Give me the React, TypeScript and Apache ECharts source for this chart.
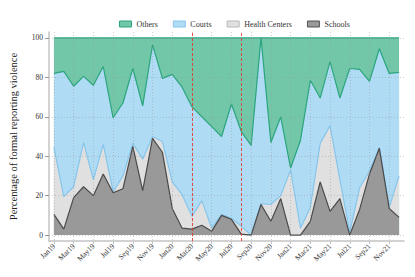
import React, { useEffect, useRef } from 'react';
import * as echarts from 'echarts';

const months = [
  'Jan19', 'Feb19', 'Mar19', 'Apr19', 'May19', 'Jun19', 'Jul19', 'Aug19', 'Sep19', 'Oct19', 'Nov19', 'Dec19',
  'Jan20', 'Feb20', 'Mar20', 'Apr20', 'May20', 'Jun20', 'Jul20', 'Aug20', 'Sep20', 'Oct20', 'Nov20', 'Dec20',
  'Jan21', 'Feb21', 'Mar21', 'Apr21', 'May21', 'Jun21', 'Jul21', 'Aug21', 'Sep21', 'Oct21', 'Nov21', 'Dec21',
];

const schools = [10.5, 3, 19, 24.5, 20, 31, 21.5, 23.5, 45, 22.5, 49, 42, 13.5, 3.5, 3, 5, 2, 10, 8, 0.5, 0, 15.5, 7, 18.5, 0, 0, 7, 27, 12, 18.5, 0, 13, 31, 44, 13.5, 9];
const health = [34, 16.5, 5.5, 22.5, 8, 15, 0.5, 6.5, 1.5, 16, 1, 5.5, 13.5, 17, 6.5, 12.5, 1.5, 0.5, 0.5, 4, 0, 0.5, 8.5, 1.5, 33, 3.5, 7, 19.5, 43.5, 9.5, 1.5, 11, 1.5, 0.5, 0.5, 21];
const courts = [37.5, 63.5, 51, 33.5, 48, 39.5, 37.5, 37, 38, 27, 46.5, 32, 54.5, 54.5, 55.5, 42.5, 51.5, 39.5, 58, 48, 45.5, 84, 31.5, 40, 1, 44.5, 64.5, 23, 32.5, 41.5, 83, 60, 45.5, 50, 68, 52.5];
const others = [18, 17, 24.5, 19.5, 24, 14.5, 40.5, 33, 15.5, 34.5, 3.5, 20.5, 18.5, 25, 35, 40, 45, 50, 33.5, 47.5, 54.5, 0, 53, 40, 66, 52, 21.5, 30.5, 12, 30.5, 15.5, 16, 22, 5.5, 18, 17.5];

const yTicks = [0, 20, 40, 60, 80, 100];
const xTickIdx = [0, 2, 4, 6, 8, 10, 12, 14, 16, 18, 20, 22, 24, 26, 28, 30, 32, 34];
const policyMarks = ['Mar20', 'Aug20'];

const FONT = '"Liberation Serif", "Times New Roman", serif';

export default function App() {
  const ref = useRef<HTMLDivElement>(null);
  useEffect(() => {
    if (!ref.current) return;
    const chart = echarts.init(ref.current, null, { renderer: 'svg' });
    const layers = [
      { name: 'Schools', data: schools, fill: '#999999', line: '#4a4a4a', border: '#555555' },
      { name: 'Health Centers', data: health, fill: '#e0e0e0', line: '#86c6ec', border: '#b8b8b8' },
      { name: 'Courts', data: courts, fill: '#b0dbf4', line: '#2aa57e', border: '#86c6ec' },
      { name: 'Others', data: others, fill: '#72c7a8', line: '#2aa57e', border: '#2aa57e' },
    ];
    // cumulative tops of each layer (bottom to top)
    const running = months.map(() => 0);
    const cumul = layers.map((l) =>
      l.data.map((v, i) => {
        running[i] += v;
        return [i, Math.round(running[i] * 100) / 100];
      })
    );
    const series: any[] = layers.map((l, k) => ({
      name: l.name,
      type: 'line',
      data: cumul[k],
      symbol: 'none',
      lineStyle: { color: l.line, width: 1.2 },
      itemStyle: { color: l.fill },
      areaStyle: { color: l.fill, opacity: 1, origin: 'auto' },
      z: 8 - k,
      ...(k === 0
        ? {
            markLine: {
              silent: true,
              z: 20,
              symbol: 'none',
              label: { show: false },
              lineStyle: { color: '#e8332b', type: [3, 2], width: 1, opacity: 0.85 },
              data: policyMarks.map((m) => ({ xAxis: months.indexOf(m) })),
            },
          }
        : {}),
    }));
    chart.setOption({
      animation: false,
      legend: {
        top: 15,
        left: 114,
        itemWidth: 12,
        itemHeight: 6,
        itemGap: 15,
        icon: 'rect',
        textStyle: { fontFamily: FONT, fontSize: 8, color: '#333' },
        data: ['Others', 'Courts', 'Health Centers', 'Schools'].map((n) => {
          const l = layers.find((x) => x.name === n)!;
          return { name: n, itemStyle: { color: l.fill, borderColor: l.border, borderWidth: 1 } };
        }),
      },
      grid: { left: 49, right: 11, top: 32, bottom: 36 },
      xAxis: {
        type: 'value',
        min: -0.5,
        max: 35.5,
        z: 10,
        axisLine: { onZero: false, lineStyle: { color: '#c4c4c4', width: 1.5 } },
        axisTick: { customValues: xTickIdx, length: 3, lineStyle: { color: '#c4c4c4' } },
        axisLabel: {
          customValues: xTickIdx,
          formatter: (v: number) => months[Math.round(v)] ?? '',
          rotate: 45,
          fontFamily: FONT,
          fontSize: 7.5,
          color: '#333',
          margin: 4,
        },
        splitLine: { show: true, lineStyle: { color: 'rgba(150,150,150,0.45)', type: [1, 2], width: 1 } },
      },
      yAxis: {
        type: 'value',
        min: -3,
        max: 103,
        z: 10,
        name: 'Percentage of formal reporting violence',
        nameLocation: 'middle',
        nameGap: 30,
        nameTextStyle: { fontFamily: FONT, fontSize: 10.5, color: '#222' },
        axisLine: { show: true, onZero: false, lineStyle: { color: '#c4c4c4', width: 1.5 } },
        axisTick: { show: true, customValues: yTicks, length: 4, lineStyle: { color: '#999' } },
        axisLabel: { customValues: yTicks, fontFamily: FONT, fontSize: 7.5, color: '#333', margin: 6 },
        splitLine: { show: true, lineStyle: { color: 'rgba(150,150,150,0.45)', type: [1, 2], width: 1 } },
      },
      series,
    });
    return () => chart.dispose();
  }, []);
  return <div ref={ref} style={{ width: 415, height: 277, position: 'absolute', left: 0, top: 0 }} />;
}
